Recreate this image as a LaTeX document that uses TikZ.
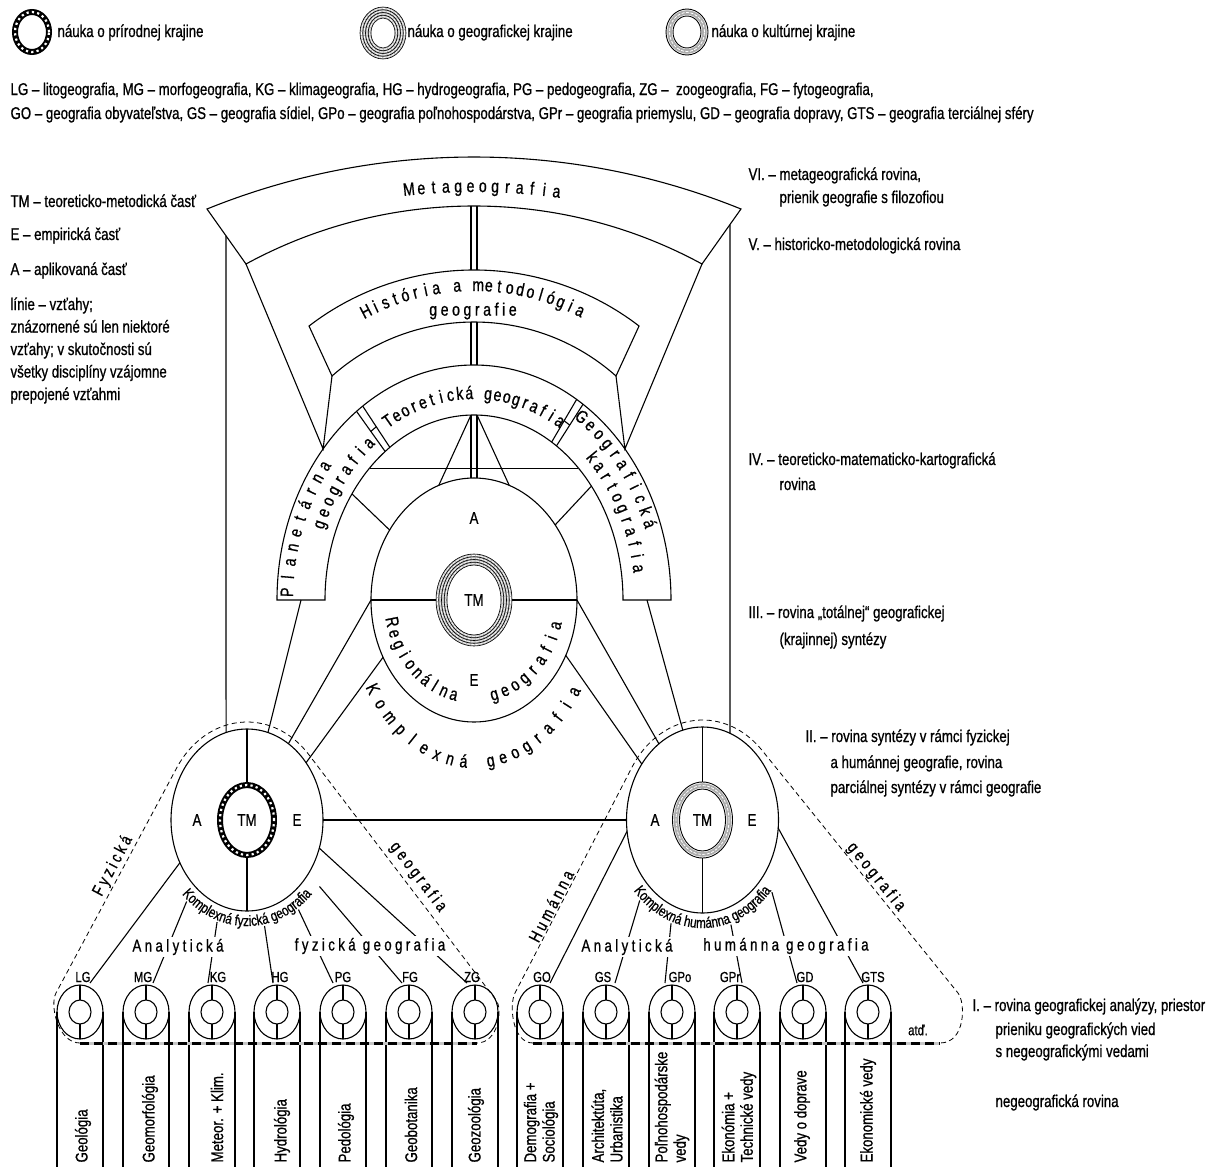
\documentclass[tikz,border=0pt]{standalone}
\usepackage{fontspec}
\setmainfont[FakeStretch=0.78,FakeBold=0.8]{Liberation Sans}
\newfontfamily\spacedfont[FakeStretch=0.78,FakeBold=0.8,LetterSpace=20]{Liberation Sans}
\usetikzlibrary{calc,decorations.text}

\newcommand\bodyfont{\fontsize{17}{22.5}\selectfont}
\newcommand\labfont{\fontsize{14.5}{16}\selectfont}
\newcommand\arcfont{\fontsize{18}{20}\selectfont}
\newcommand\ringfont{\fontsize{15}{16}\selectfont}

% ring symbols: centre, x radius, y radius
\newcommand\natring[3]{%
  \draw[line width=6pt] #1 ellipse[x radius=#2-3, y radius=#3-3];
  \draw[white, line width=2.2pt, dash pattern=on 2.2pt off 3.2pt] #1 ellipse[x radius=#2-3, y radius=#3-3];
}
\newcommand\georing[3]{%
  \fill[gray!55, even odd rule] #1 ellipse[x radius=#2, y radius=#3] #1 ellipse[x radius=#2-11, y radius=#3-11];
  \foreach \k in {0,2.75,5.5,8.25,11} {\draw[line width=0.6pt] #1 ellipse[x radius=#2-\k, y radius=#3-\k];}
  \foreach \k in {1.4,4.1,6.9,9.6} {\draw[white, line width=0.7pt, dash pattern=on 3pt off 1.2pt] #1 ellipse[x radius=#2-\k, y radius=#3-\k];}
}
\newcommand\culring[3]{%
  \draw[gray!65, line width=4.5pt] #1 ellipse[x radius=#2-3.5, y radius=#3-3.5];
  \draw[white, line width=0.8pt, dash pattern=on 3pt off 1.5pt] #1 ellipse[x radius=#2-3.5, y radius=#3-3.5];
  \draw[line width=0.9pt] #1 ellipse[x radius=#2, y radius=#3];
  \draw[line width=0.9pt] #1 ellipse[x radius=#2-7, y radius=#3-7];
}
% letters spread evenly along an elliptic arc
% #1 name prefix, #2 centre, #3 rx, #4 ry, #5 start angle, #6 end angle, #7 count, #8 letters
\newcommand\arctext[8]{%
  \pgfmathsetmacro\arcS{ifthenelse(#6>#5,1,-1)}%
  \foreach \arcL [count=\arcI] in {#8} {%
    \pgfmathsetmacro\arcT{#5+(\arcI-1)*(#6-#5)/(#7-1)}%
    \pgfmathsetmacro\arcR{atan2(\arcS*#4*cos(\arcT), -\arcS*#3*sin(\arcT))}%
    \node[arcletter, rotate=\arcR] (#1-\arcI) at ($#2+({#3*cos(\arcT)},{#4*sin(\arcT)})$) {\arcL};
  }%
}

\begin{document}
\begin{tikzpicture}[x=1pt, y=1pt, line width=1.1pt,
  body/.style={font=\bodyfont, inner sep=0pt, anchor=base west},
  lab/.style={font=\labfont, inner sep=0.5pt},
  mid/.style={font=\bodyfont, inner sep=0.5pt},
  spaced/.style={font=\spacedfont\bodyfont, inner sep=1.5pt},
  arcletter/.style={font=\arcfont, inner sep=0pt, anchor=base},
  outline/.style={line width=0.8pt, dash pattern=on 5pt off 3.5pt},
  thickdash/.style={line width=3pt, dash pattern=on 9pt off 5pt},
  column/.style={font=\fontsize{17}{18.5}\selectfont, rotate=90, anchor=west, inner sep=0pt, align=left}
]
\fill[white] (0,0) rectangle (1219,-1167);
\useasboundingbox (0,0) rectangle (1219,-1167);

% ---------- legend ----------
\coordinate (lg1) at (32,-32);  \natring{(lg1)}{20}{23}
\node[body] (lt1) at (57,-37) {náuka o prírodnej krajine};
\coordinate (lg2) at (383,-33); \georing{(lg2)}{23}{26}
\node[body] (lt2) at (407,-37) {náuka o geografickej krajine};
\coordinate (lg3) at (687,-32); \culring{(lg3)}{21}{23}
\node[body] (lt3) at (711,-37) {náuka o kultúrnej krajine};

\node[body] (ab1) at (10,-95) {LG – litogeografia, MG – morfogeografia, KG – klimageografia, HG – hydrogeografia, PG – pedogeografia, ZG –\ \ zoogeografia, FG – fytogeografia,};
\node[body] (ab2) at (10,-119) {GO – geografia obyvateľstva, GS – geografia sídiel, GPo – geografia poľnohospodárstva, GPr – geografia priemyslu, GD – geografia dopravy, GTS – geografia terciálnej sféry};

% ---------- left notes ----------
\node[body] (n1) at (10,-207) {TM – teoreticko-metodická časť};
\node[body] (n2) at (10,-240) {E – empirická časť};
\node[body] (n3) at (10,-275) {A – aplikovaná časť};
\node[body] (n4) at (10,-310) {línie – vzťahy;};
\node[body] (n5) at (10,-332.5) {znázornené sú len niektoré};
\node[body] (n6) at (10,-355) {vzťahy; v skutočnosti sú};
\node[body] (n7) at (10,-377.5) {všetky disciplíny vzájomne};
\node[body] (n8) at (10,-400) {prepojené vzťahmi};

% ---------- right notes (levels) ----------
\node[body] (r6)  at (748,-180) {VI. – metageografická rovina,};
\node[body] (r6b) at (779,-203) {prienik geografie s filozofiou};
\node[body] (r5)  at (748,-250) {V. – historicko-metodologická rovina};
\node[body] (r4)  at (748,-465) {IV. – teoreticko-matematicko-kartografická};
\node[body] (r4b) at (779,-490) {rovina};
\node[body] (r3)  at (748,-618) {III. – rovina „totálnej“ geografickej};
\node[body] (r3b) at (779,-645) {(krajinnej) syntézy};
\node[body] (r2)  at (805,-742) {II. – rovina syntézy v rámci fyzickej};
\node[body] (r2b) at (830,-768) {a humánnej geografie, rovina};
\node[body] (r2c) at (830,-793) {parciálnej syntézy v rámci geografie};
\node[body] (r1)  at (972,-1011) {I. – rovina geografickej analýzy, priestor};
\node[body] (r1b) at (995,-1035) {prieniku geografických vied};
\node[body] (r1c) at (995,-1057) {s negeografickými vedami};
\node[body] (r0)  at (995,-1107) {negeografická rovina};

% ---------- key points ----------
\coordinate (O)  at (474,-600);
\coordinate (LC) at (247,-820);
\coordinate (RC) at (702.5,-820);

% ---------- Metageografia band ----------
\coordinate (mOL) at (207,-209);
\coordinate (mOR) at (741,-209);
\coordinate (mIL) at (246,-264);
\coordinate (mIR) at (702,-264);
\coordinate (mIT) at (474,-206);
\draw (mOL) arc[start angle=112.04, end angle=67.96, radius=711.5] -- (mIR)
      arc[start angle=61.45, end angle=118.55, radius=477.1] -- cycle;
\arctext{meta}{(474,-819)}{627}{627}{95.9}{82.5}{13}{M,e,t,a,g,e,o,g,r,a,f,i,a}

% ---------- História a metodológia band ----------
\coordinate (hOL) at (309,-326);
\coordinate (hOR) at (639,-326);
\coordinate (hIL) at (332,-376);
\coordinate (hIR) at (616,-376);
\coordinate (hOT) at (474,-270);
\coordinate (hIT) at (474,-322);
\draw (hOL) arc[start angle=127.5, end angle=52.5, radius=271.1] -- (hIR)
      arc[start angle=48.36, end angle=131.64, radius=213.7] -- cycle;
\arctext{hist}{(474,-519)}{228}{228}{117.5}{63}{22}{H,i,s,t,ó,r,i,a,{},a,{},m,e,t,o,d,o,l,ó,g,i,a}
\node[font=\spacedfont\arcfont, inner sep=0pt] (geogr) at (473,-311) {geografie};

% ---------- arch: planetary / theoretical / cartographic ----------
\coordinate (aOT) at ($(O)+(0,235)$);
\coordinate (aIT) at ($(O)+(0,185)$);
\coordinate (cT)  at ($(O)+(0,122)$);
\draw ($(O)+(-197,0)$) arc[start angle=180, end angle=0, x radius=197, y radius=235]
   -- ($(O)+(149,0)$) arc[start angle=0, end angle=180, x radius=149, y radius=185] -- cycle;
\foreach \t in {124.4,126.6,56.4,58.6}
  \draw ($(O)+({197*cos(\t)},{235*sin(\t)})$) -- ($(O)+({149*cos(\t)},{185*sin(\t)})$);
\foreach \t in {125.5,57.5}
  \draw ($(O)+({173*cos(\t-1.1)},{210*sin(\t-1.1)})$) -- ($(O)+({173*cos(\t+1.1)},{210*sin(\t+1.1)})$);
\arctext{teo}{(O)}{165}{201}{120}{60}{20}{T,e,o,r,e,t,i,c,k,á,{},g,e,o,g,r,a,f,i,a}
\arctext{pla}{(O)}{181}{218}{178}{143}{10}{P,l,a,n,e,t,á,r,n,a}
\arctext{plb}{(O)}{161}{197}{158}{129}{9}{g,e,o,g,r,a,f,i,a}
\arctext{kaa}{(O)}{181}{218}{55}{20}{11}{G,e,o,g,r,a,f,i,c,k,á}
\arctext{kab}{(O)}{161}{197}{45}{9}{11}{k,a,r,t,o,g,r,a,f,i,a}

% double links along the axis
\foreach \d in {-3,3} {
  \draw ($(mIT)+(\d,0)$) -- ($(hOT)+(\d,0)$);
  \draw ($(hIT)+(\d,0)$) -- ($(aOT)+(\d,0)$);
  \draw ($(aIT)+(\d,0)$) -- ($(cT)+(\d,0)$);
}
% links inside the arch
\draw ($(O)+({149*cos(134.5)},{185*sin(134.5)})$) -- ($(O)+({149*cos(45.5)},{185*sin(45.5)})$);
\draw ($(aIT)+(-3,0)$) -- ($(O)+({103*cos(110)},{122*sin(110)})$);
\draw ($(aIT)+(3,0)$)  -- ($(O)+({103*cos(70)},{122*sin(70)})$);
\draw ($(O)+({149*cos(145)},{185*sin(145)})$) -- ($(O)+({103*cos(145)},{122*sin(145)})$);
\draw ($(O)+({149*cos(38)},{185*sin(38)})$)  -- ($(O)+({103*cos(38)},{122*sin(38)})$);
% links from the upper bands to the arch
\coordinate (aL) at ($(O)+({197*cos(140)},{235*sin(140)})$);
\coordinate (aR) at ($(O)+({197*cos(40)},{235*sin(40)})$);
\draw (mIL) -- (aL) -- (hIL);
\draw (mIR) -- (aR) -- (hIR);

% ---------- central synthesis ----------
\draw (O) ellipse[x radius=103, y radius=122];
\draw ($(O)+(-103,0)$) -- ($(O)+(-38,0)$);
\draw ($(O)+(38,0)$) -- ($(O)+(103,0)$);
\georing{(O)}{38}{46}
\node[mid] (cA) at (474,-518) {A};
\node[mid] (cTM) at (O) {TM};
\node[mid] (cE) at (474,-680) {E};
\arctext{reg}{(O)}{90}{103}{193}{256}{10}{R,e,g,i,o,n,á,l,n,a}
\arctext{rgg}{(O)}{90}{103}{284}{345}{9}{g,e,o,g,r,a,f,i,a}
\arctext{kom}{(O)}{127}{168}{213}{265}{9}{K,o,m,p,l,e,x,n,á}
\arctext{kgg}{(O)}{127}{168}{278}{326}{9}{g,e,o,g,r,a,f,i,a}

% ---------- physical and human geography ----------
\draw (LC) ellipse[x radius=76, y radius=91];
\natring{(LC)}{30}{38}
\draw ($(LC)+(0,91)$) -- ($(LC)+(0,38)$);
\draw ($(LC)+(0,-38)$) -- ($(LC)+(0,-91)$);
\node[mid] (lA) at (197,-820) {A};
\node[mid] (lTM) at (LC) {TM};
\node[mid] (lE) at (297,-820) {E};

\draw (RC) ellipse[x radius=76, y radius=93];
\culring{(RC)}{30}{38}
\draw ($(RC)+(0,93)$) -- ($(RC)+(0,38)$);
\draw ($(RC)+(0,-38)$) -- ($(RC)+(0,-93)$);
\node[mid] (rA) at (655,-820) {A};
\node[mid] (rTM) at (RC) {TM};
\node[mid] (rE) at (752,-820) {E};

% vertical links from the metageography band
\coordinate (vLt) at ($(mOL)!0.487!(mIL)$);
\coordinate (vLb) at ($(LC)+({76*cos(106)},{91*sin(106)})$);
\coordinate (vRt) at ($(mOR)!0.282!(mIR)$);
\coordinate (vRb) at ($(RC)+({76*cos(68.8)},{93*sin(68.8)})$);
\draw (vLt) -- (vLb);
\draw (vRt) -- (vRb);

% links between the synthesis levels
\draw ($(O)+(-173,0)$) -- ($(LC)+({76*cos(74)},{91*sin(74)})$);
\draw ($(O)+(-103,0)$) -- ($(LC)+({76*cos(57)},{91*sin(57)})$);
\draw ($(O)+({103*cos(208)},{122*sin(208)})$) -- ($(LC)+({76*cos(39)},{91*sin(39)})$);
\draw ($(O)+(173,0)$) -- ($(RC)+({76*cos(105)},{93*sin(105)})$);
\draw ($(O)+(103,0)$) -- ($(RC)+({76*cos(125)},{93*sin(125)})$);
\draw ($(O)+({103*cos(333)},{122*sin(333)})$) -- ($(RC)+({76*cos(143)},{93*sin(143)})$);
\draw ($(LC)+(76,0)$) -- ($(RC)+(-76,0)$);

% ---------- analytical disciplines ----------
\foreach \x/\n in {80/LG,146/MG,212/KG,277/HG,343/PG,409/FG,475/ZG,540/GO,606/GS,672/GPo,737/GPr,803/GD,868/GTS} {
  \coordinate (s\n) at (\x,-1012);
  \draw (s\n) ellipse[x radius=23, y radius=27];
  \draw (s\n) ellipse[x radius=11, y radius=12];
  \draw ($(s\n)+(0,27)$) -- ($(s\n)+(0,12)$);
  \draw ($(s\n)+(0,-12)$) -- ($(s\n)+(0,-27)$);
  \draw ($(s\n)+(-23,0)$) -- (\x-23,-1167);
  \draw ($(s\n)+(23,0)$) -- (\x+23,-1167);
}
\foreach \x/\n in {83/LG,143/MG,218/KG,280/HG,343/PG,410/FG,472/ZG,542/GO,603/GS,680/GPo,730/GPr,805/GD,873/GTS}
  \node[lab] (l\n) at (\x,-977) {\n};

% links from the partial syntheses to the analytical disciplines
\foreach \t/\pa/\pb/\ex in {208/76/91/90, 229/92/108/153, 251/92/108/208, 281/92/108/273, 304/92/108/333, 322/92/108/402, 342/76/91/467}
  \draw ($(LC)+({\pa*cos(\t)},{\pb*sin(\t)})$) -- (\ex,-983);
\foreach \t/\pa/\pb/\ex in {187/76/93/550, 227/92/110/615, 250/92/110/665, 288/92/110/742, 319/92/110/797, 355/76/93/863}
  \draw ($(RC)+({\pa*cos(\t)},{\pb*sin(\t)})$) -- (\ex,-983);

\path[decorate, decoration={text along path, text align=center, text={|\ringfont|Komplexná fyzická geografia}}]
  ($(LC)+({91*cos(195)},{106*sin(195)})$) arc[start angle=195, end angle=345, x radius=91, y radius=106];
\path[decorate, decoration={text along path, text align=center, text={|\ringfont|Komplexná humánna geografia}}]
  ($(RC)+({91*cos(195)},{108*sin(195)})$) arc[start angle=195, end angle=345, x radius=91, y radius=108];

\node[spaced, fill=white] (anl) at (178,-947) {Analytická};
\node[spaced, fill=white] (fyg) at (370,-946) {fyzická geografia};
\node[spaced, fill=white] (anr) at (627,-947) {Analytická};
\node[spaced, fill=white] (hug) at (786,-946) {humánna geografia};

% dashed groupings
\draw[outline] (80,-1043) .. controls (58,-1043) and (49.4,-1005.3) .. (56,-993)
  -- ($(LC)+({83*cos(147.8)},{98*sin(147.8)})$) arc[start angle=147.8, end angle=42, x radius=83, y radius=98]
  -- (496,-1000) .. controls (503.3,-1009.6) and (498,-1043) .. (477,-1043);
\draw[outline] (533,-1043) .. controls (512,-1043) and (509,-1004.6) .. (515,-993)
  -- ($(RC)+({83*cos(147.9)},{100*sin(147.9)})$) arc[start angle=147.9, end angle=44.3, x radius=83, y radius=100]
  -- (958,-993) .. controls (965.5,-1002.3) and (966,-1043) .. (940,-1043);
\draw[line width=3pt, gray!45] (80,-1043) -- (477,-1043);
\draw[thickdash] (80,-1043) -- (477,-1043);
\draw[line width=3pt, gray!45] (533,-1043) -- (940,-1043);
\draw[thickdash] (533,-1043) -- (940,-1043);
\node[lab] (etc) at (918,-1030) {atď.};

\node[spaced, rotate=62] (fyz) at (113,-866) {Fyzická};
\node[spaced, rotate=-52.7] (geol) at (418,-877) {geografia};
\node[spaced, rotate=62.7] (hum) at (551,-906) {Humánna};
\node[spaced, rotate=-51] (geor) at (876,-877) {geografia};

% ---------- non-geographical sciences ----------
\node[column] (c1) at (83,-1163) {Geológia};
\node[column] (c2) at (150,-1163) {Geomorfológia};
\node[column] (c3) at (217,-1163) {Meteor. + Klim.};
\node[column] (c4) at (282,-1163) {Hydrológia};
\node[column] (c5) at (346,-1163) {Pedológia};
\node[column] (c6) at (411,-1163) {Geobotanika};
\node[column] (c7) at (476,-1163) {Geozoológia};
\node[column] (c8) at (541,-1163) {Demografia +\\Sociológia};
\node[column] (c9) at (607,-1163) {Architektúta,\\Urbanistika};
\node[column] (c10) at (672,-1163) {Poľnohospodárske\\vedy};
\node[column] (c11) at (739,-1163) {Ekonómia +\\Technické vedy};
\node[column] (c12) at (802,-1163) {Vedy o doprave};
\node[column] (c13) at (868,-1163) {Ekonomické vedy};
\end{tikzpicture}
\end{document}
